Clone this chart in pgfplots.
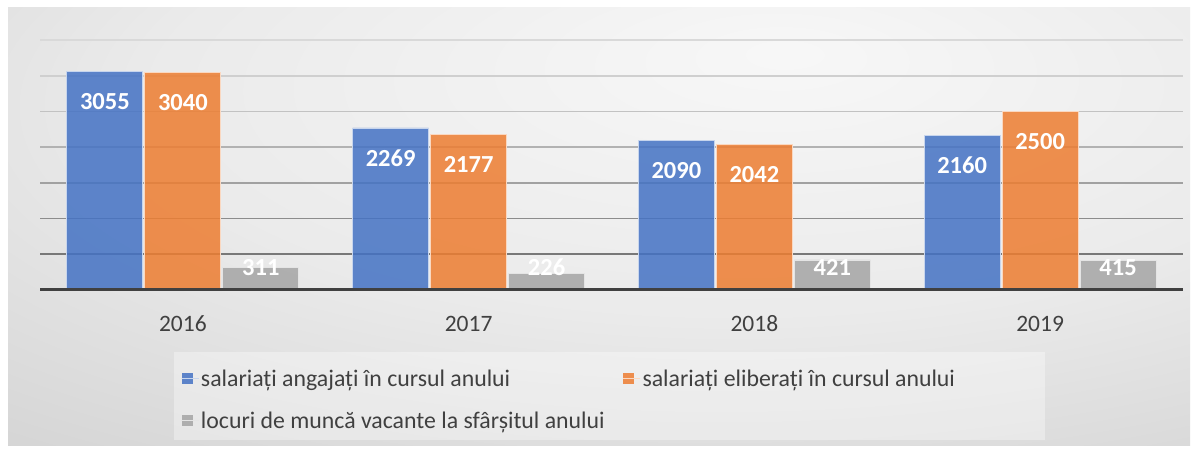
\documentclass[border=0pt]{standalone}
\usepackage{pgfplots}
\pgfplotsset{compat=1.18}
\usepackage{fontspec}
\setmainfont{Carlito}
\definecolor{cblue}{RGB}{68,114,196}
\definecolor{corange}{RGB}{237,125,49}
\definecolor{cgray}{RGB}{165,165,165}
\definecolor{txt}{RGB}{64,64,64}
\pgfdeclareradialshading{bgshade}{\pgfpoint{8bp}{20bp}}{color(0bp)=(black!3); color(25bp)=(black!8); color(50bp)=(black!18); color(70bp)=(black!24); color(95bp)=(black!28)}
\pgfplotsset{sq legend/.style={legend image code/.code={\fill[##1, draw=none] (0pt,-5.5pt) rectangle (11pt,5.5pt); \path (0pt,0pt) -- (17pt,0pt);}}}
\begin{document}
\begin{tikzpicture}[x=1pt,y=1pt]
\fill[white] (0,0) rectangle (1200,452);
\shade[shading=bgshade] (8,6) rectangle (1190,444);
\fill[white, fill opacity=0.35] (174,12) rectangle (1045,100);
\begin{axis}[
  at={(40pt,162pt)}, anchor=south west,
  width=1143pt, height=250pt, scale only axis,
  ymin=0, ymax=3500, xmin=-0.5, xmax=3.5,
  ybar=2pt, bar width=76pt,
  every axis plot post/.append style={sq legend},
  axis line style={draw=none},
  ytick=\empty,
  xtick={0,1,2,3}, xticklabels={2016,2017,2018,2019},
  major tick length=0pt,
  xticklabel style={font=\fontsize{23.5}{27}\selectfont, text=txt, anchor=center, yshift=-34pt},
  clip=false,
  legend columns=2,
  legend cell align=left,
  legend style={at={(0.1207,-0.302)}, anchor=north west, draw=none, fill=none,
    font=\fontsize{23.8}{27}\selectfont, text=txt,
    /tikz/every even column/.append style={column sep=16pt},
    row sep=20pt},
  nodes near coords={\pgfmathprintnumber[assume math mode=true, 1000 sep={}]{\pgfplotspointmeta}},
  every node near coord/.append style={font=\bfseries\fontsize{24.5}{28}\selectfont, text=white, text opacity=1, fill opacity=1},
]
\draw[line width=1.6pt, black!53] (axis cs:-0.5,500) -- (axis cs:3.5,500);
\draw[line width=1.6pt, black!45] (axis cs:-0.5,1000) -- (axis cs:3.5,1000);
\draw[line width=1.6pt, black!37] (axis cs:-0.5,1500) -- (axis cs:3.5,1500);
\draw[line width=1.6pt, black!30] (axis cs:-0.5,2000) -- (axis cs:3.5,2000);
\draw[line width=1.6pt, black!24] (axis cs:-0.5,2500) -- (axis cs:3.5,2500);
\draw[line width=1.6pt, black!19] (axis cs:-0.5,3000) -- (axis cs:3.5,3000);
\draw[line width=1.6pt, black!15] (axis cs:-0.5,3500) -- (axis cs:3.5,3500);
\addplot[fill=cblue, fill opacity=0.85, draw=cblue!30!white, line width=0.8pt,
  every node near coord/.append style={anchor=center, yshift=-30pt}]
  coordinates {(0,3055) (1,2269) (2,2090) (3,2160)};
\addlegendentry{salariați angajați în cursul anului}
\addplot[fill=corange, fill opacity=0.85, draw=corange!30!white, line width=0.8pt,
  every node near coord/.append style={anchor=center, yshift=-30pt}]
  coordinates {(0,3040) (1,2177) (2,2042) (3,2500)};
\addlegendentry{salariați eliberați în cursul anului}
\addplot[fill=cgray, fill opacity=0.85, draw=cgray!30!white, line width=0.8pt,
  visualization depends on={value \thisrow{off} \as \myoff},
  every node near coord/.append style={anchor=center, yshift=\myoff pt}]
  table[x=x, y=y] {
x y off
0 311 0.6
1 226 6.7
2 421 -7.2
3 415 -6.8
};
\addlegendentry{locuri de muncă vacante la sfârșitul anului}
\draw[line width=3pt, txt] (axis cs:-0.5,0) -- (axis cs:3.5,0);
\end{axis}
\end{tikzpicture}
\end{document}
